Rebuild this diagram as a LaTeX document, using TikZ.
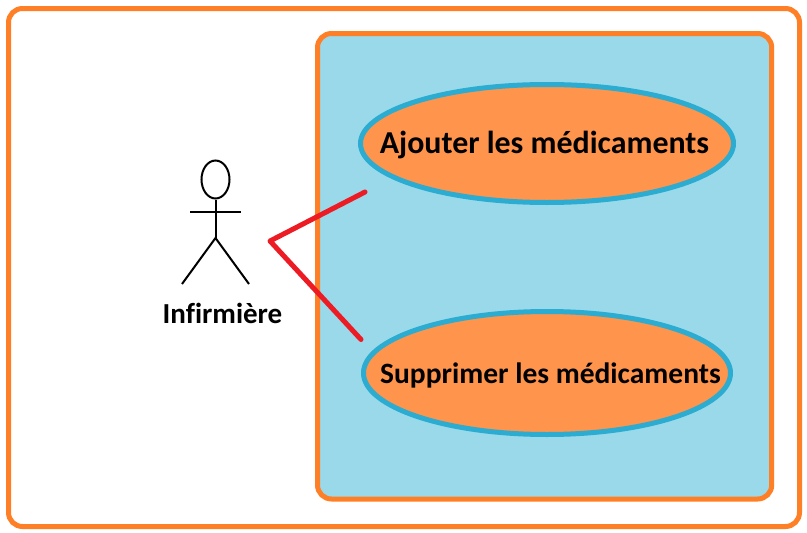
\documentclass[tikz,border=0pt]{standalone}
\usepackage{fontspec}
\setmainfont[Ligatures=NoCommon]{Carlito}
\usetikzlibrary{shapes.geometric}
\definecolor{frameorange}{RGB}{255,127,39}
\definecolor{panelblue}{RGB}{153,217,234}
\definecolor{ucfill}{RGB}{255,148,77}
\definecolor{ucline}{RGB}{44,172,208}
\definecolor{linkred}{RGB}{237,28,36}
\tikzset{
  x=1pt,y=-1pt,
  framebox/.style={draw=frameorange,line width=5pt,rounded corners=14pt},
  usecase/.style={ellipse,draw=ucline,fill=ucfill,line width=5pt,inner sep=0pt,outer sep=0pt},
  uclabel/.style={font=\bfseries\fontsize{#1}{#1}\selectfont,text=black,inner sep=0pt},
  stick/.style={draw=black,line width=2pt},
  link/.style={draw=linkred,line width=5pt,line cap=round,line join=round}
}
\begin{document}
\begin{tikzpicture}
\useasboundingbox (0,0) rectangle (807,533);
\fill[white] (0,0) rectangle (807,533);
\draw[framebox] (8.5,8.5) rectangle (799.5,526.5);
\draw[framebox,fill=panelblue] (317.5,33.5) rectangle (771.7,499);
\node[usecase,minimum width=373pt,minimum height=118pt] (uc1) at (547,143.5) {};
\node[usecase,minimum width=367pt,minimum height=123pt] (uc2) at (547,373) {};
\node[uclabel=31.9] (t1) at (544.5,145) {Ajouter les médicaments};
\node[uclabel=29.5] (t2) at (550.5,375) {Supprimer les médicaments};
% actor
\node[ellipse,stick,minimum width=28pt,minimum height=38pt,inner sep=0pt] (head) at (215.5,179.5) {};
\coordinate (hip) at (215.5,238);
\coordinate (armL) at (190,212);
\coordinate (armR) at (241,212);
\coordinate (footL) at (182,284);
\coordinate (footR) at (249,284);
\draw[stick] (head.south) -- (hip);
\draw[stick] (armL) -- (armR);
\draw[stick] (footL) -- (hip) -- (footR);
\node[uclabel=29] (actor) at (222.5,313) {Infirmière};
% links
\coordinate (apex) at (270,241);
\coordinate (end1) at (365,192);
\coordinate (end2) at (361,339.5);
\draw[link] (end1) -- (apex) -- (end2);
\end{tikzpicture}
\end{document}
